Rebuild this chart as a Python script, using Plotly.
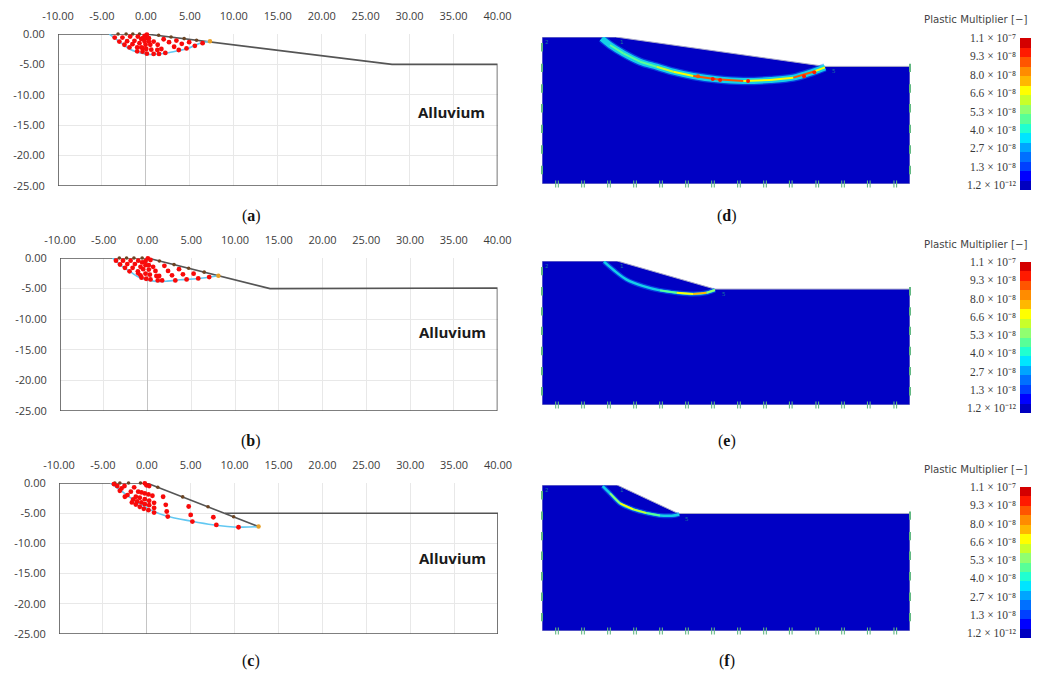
import plotly.graph_objects as go

W, H = 1040, 677

# ---------- tick labels ----------
x_ticks = [-10, -5, 0, 5, 10, 15, 20, 25, 30, 35, 40]
y_ticks = [0, -5, -10, -15, -20, -25]

# ---------- left panels: slope geometry ----------
surface_a_x = [-10, 0, 28, 40, 40, -10, -10]
surface_a_y = [0, 0, -5, -5, -25, -25, 0]
surface_b_x = [-10, 0, 14, 40, 40, -10, -10]
surface_b_y = [0, 0, -5, -4.9, -25, -25, 0]
surface_c_x = [-10, 0, 12.73]
surface_c_y = [0, 0, -7.22]
bench_c_x = [8.9, 40, 40, -10, -10]
bench_c_y = [-5, -5, -25, -25, 0]

# ---------- critical slip circles ----------
slip_a_x = [-4.16, -3.02, -1.87, -0.92, 0.11, 1.18, 2.33, 3.66, 4.81, 6.15, 7.29]
slip_a_y = [0, -1.24, -2.47, -3.01, -3.33, -3.33, -3.12, -2.74, -2.37, -1.51, -1.18]
slip_b_x = [-4.0, -3.07, -1.93, -0.8, 0.72, 2.23, 3.75, 5.64, 8.1]
slip_b_y = [0, -1.17, -2.28, -3.28, -3.78, -3.78, -3.56, -3.39, -2.89]
slip_c_x = [-4.15, -3, -2, -1, 0.5, 2.3, 5, 7.5, 10.5, 12.7]
slip_c_y = [0, -1.2, -2.3, -3.3, -4.5, -5.5, -6.3, -6.9, -7.3, -7.22]

# ---------- search grid points (red) ----------
red_a_x = [-3.55, -2.67, -1.79, -0.92, 0, -3.02, -2.14, -1.30, -0.53, -2.44, -1.53, -0.73, -1.87, -0.99,
           -0.99, -0.38, -0.38, 0.11, 0.88, 1.49, 2.21, -0.15, 0.11, -0.34, -0.04, 0.34, -0.15, 0.34, 0.88,
           -0.04, 0.50, 1.34, -0.53, 0.04, 0.61, 1.30, 1.76, 2.02, 2.63, 3.21, 3.74, 3.47, 4.08, 4.62, 4.92,
           5.57, 6.45]
red_a_y = [-0.59, -0.59, -0.43, -0.43, 0.1, -1.24, -1.18, -1.13, -0.81, -1.77, -1.67, -1.51, -2.20, -2.20,
           -2.85, -2.31, -2.90, -3.23, -3.28, -3.28, -3.12, -0.32, -0.11, -0.70, -0.70, -0.70, -1.24, -1.24,
           -1.24, -1.77, -1.77, -1.77, -2.20, -2.47, -2.58, -2.63, -2.47, -0.86, -1.34, -2.10, -2.63, -1.08,
           -1.61, -2.37, -1.34, -1.94, -1.51]
red_b_x = [-3.60, -2.80, -1.93, -1.06, -0.08, -0.23, 0.04, 0.34, -3.14, -2.31, -1.44, -0.61, -0.23, -2.58,
           -1.70, -0.80, -0.23, 0.15, 0.64, -2.05, -1.10, -0.49, 0.15, 0.91, -1.06, -0.80, -0.23, 0.27, 1.02,
           1.33, -0.68, -0.15, 0.34, 1.17, 1.67, 1.93, 2.35, 2.80, 3.18, 3.60, 4.05, 4.47, 5.27, 5.80, 7.05]
red_b_y = [-0.44, -0.44, -0.44, -0.44, 0.3, 0.06, -0.06, -0.33, -1.06, -1.0, -1.0, -0.72, -0.5, -1.61, -1.61,
           -1.44, -1.17, -1.17, -1.44, -2.17, -2.17, -1.83, -1.89, -2.11, -2.5, -2.83, -2.56, -2.72, -2.94,
           -2.94, -3.22, -3.39, -3.5, -3.67, -3.67, -1.28, -2.11, -2.83, -3.67, -1.83, -2.67, -3.5, -2.56,
           -3.33, -3.11]
red_c_x = [-3.75, -3.37, -3.07, -2.88, -2.54, -2.5, -2.2, -1.82, -1.44, -0.98, -0.61, -0.23, 0.19, 0.64,
           -1.25, -0.8, -0.23, 0.27, 0.83, -1.55, -1.10, -0.61, -0.23, 0.27, 0.83, -1.70, -1.25, -0.8, -0.34,
           0.19, 0.83, -0.15, -0.23, -0.04, 0.27, 1.86, 2.16, 2.27, 2.39, 4.77, 5.0, 5.19, 7.58, 7.92, 10.45]
red_c_y = [-0.17, -0.5, -1.28, -0.89, -0.5, -2.28, -2.0, -1.44, -0.72, -1.44, -1.56, -1.72, -1.89, -2.11,
           -2.28, -2.44, -2.67, -2.94, -3.28, -2.72, -3.06, -3.22, -3.5, -3.67, -4.11, -3.22, -3.56, -3.94,
           -4.28, -4.5, -4.89, 0.3, -0.06, -0.39, -0.5, -2.28, -3.61, -4.72, -5.56, -3.89, -5.28, -6.39,
           -5.67, -6.94, -7.33]

# ---------- surface points (brown) and slip end points (orange) ----------
brown_a_x = [-3.17, -2.25, -1.49, -0.73, 1.45, 2.86, 4.35, 5.76]
brown_a_y = [0, 0, 0, 0, -0.2, -0.5, -0.76, -1.02]
brown_b_x = [-3.22, -2.39, -1.55, -0.61, 1.36, 3.03, 4.70, 6.48]
brown_b_y = [0, 0, 0, 0, -0.49, -1.08, -1.68, -2.31]
brown_c_x = [-3.64, -3.07, -2.08, -0.72, 1.25, 4.09, 6.97, 9.89]
brown_c_y = [0, 0, 0, 0, -0.7, -2.3, -3.94, -5.6]
orange_a_x, orange_a_y = [-4.2, 7.29], [0.05, -1.18]
orange_b_x, orange_b_y = [-4.0, 8.1], [0.05, -2.89]
orange_c_x, orange_c_y = [-4.15, 12.73], [0.05, -7.22]

# ---------- right panels: model outline ----------
soil_d_x = [-10, 0, 28.5, 40, 40, -10, -10]
soil_d_y = [0, 0, -4, -4, -20, -20, 0]
soil_e_x = [-10, 0.2, 13.5, 40, 40, -10, -10]
soil_e_y = [0, 0, -3.9, -3.9, -20, -20, 0]
soil_f_x = [-10, 0.2, 8.5, 40, 40, -10, -10]
soil_f_y = [0, 0, -3.9, -3.9, -20, -20, 0]

# ---------- plastic multiplier band (value in 1e-8) ----------
band_d_x = [-1.89, -0.76, 1.05, 3.32, 5.58, 7.85, 10.56, 13.73, 17.36, 20.98, 24.15, 26.87, 28.45]
band_d_y = [-0.18, -1.09, -2.22, -3.36, -4.04, -4.72, -5.31, -5.76, -5.99, -5.85, -5.53, -4.72, -4.13]
band_d_v = [4, 5, 5, 5, 5.5, 7, 8, 10, 8, 7, 8, 10, 5]
band_e_x = [-1.58, -0.31, 1.50, 3.77, 6.03, 8.30, 10.56, 12.37, 13.5]
band_e_y = [-0.09, -1.22, -2.58, -3.49, -4.08, -4.40, -4.58, -4.40, -4.03]
band_e_v = [4, 4, 4, 4, 4, 6, 9, 7, 5]
band_f_x = [-1.76, -0.76, 0.60, 2.41, 4.22, 6.03, 7.62, 8.66]
band_f_y = [-0.15, -1.15, -2.52, -3.34, -3.85, -4.17, -4.21, -4.03]
band_f_v = [4, 4, 8, 7, 6, 4, 4, 4]

# ---------- hot spots of panel d (value in 1e-8) ----------
spot_d_x = [11.2, 13.2, 14.2, 18.0, 25.6, 27.0]
spot_d_y = [-5.35, -5.7, -5.85, -6.0, -5.35, -4.8]
spot_d_v = [9, 10, 10, 10, 10, 10]

# ---------- boundary nodes ----------
node_left_y = [-1.4, -4.2, -7, -9.7, -12.5, -15.3, -18.1]
node_right_y = [-4.2, -7, -9.7, -12.5, -15.3, -18.1]
node_bottom_x = [-7.96, -4.43, -0.9, 2.64, 6.17, 9.7, 13.23, 16.76, 20.3, 23.8, 27.4, 30.9, 34.4, 38.0]

# ---------- colour bar ----------
cb_colors = ["#0000c0", "#0000ff", "#0040ff", "#0070ff", "#00a5ff", "#00e5ff", "#20ffd0", "#58ff98",
             "#90ff70", "#c8ff2a", "#ffff00", "#ffb800", "#ff8c00", "#ff5500", "#ff1a00", "#d40000"]
cb_labels = ["1.2 × 10⁻¹²", "1.3 × 10⁻⁸", "2.7 × 10⁻⁸", "4.0 × 10⁻⁸", "5.3 × 10⁻⁸",
             "6.6 × 10⁻⁸", "8.0 × 10⁻⁸", "9.3 × 10⁻⁸", "1.1 × 10⁻⁷"]
cb_levels = [0, 1, 2, 3, 4, 5, 6, 7, 8, 9, 10, 11, 12, 13, 14, 15]

SOIL = "#0000c4"
TICK_FONT = dict(family="Open Sans", size=11, color="#3c3c3c")

fig = go.Figure()
layout = dict(width=W, height=H, margin=dict(l=0, r=0, t=0, b=0, pad=0), autosize=False,
              paper_bgcolor="white", plot_bgcolor="white", showlegend=False)
annotations = []
axis_n = [0]


def dom_x(a, b):
    return [a / W, b / W]


def dom_y(top, bottom):
    return [1 - bottom / H, 1 - top / H]


def new_axes(box, xaxis, yaxis):
    axis_n[0] += 1
    n = axis_n[0]
    sx = "" if n == 1 else str(n)
    layout["xaxis" + sx] = dict(domain=dom_x(box[0], box[1]), anchor="y" + sx, automargin=False, **xaxis)
    layout["yaxis" + sx] = dict(domain=dom_y(box[2], box[3]), anchor="x" + sx, automargin=False, **yaxis)
    return "x" + sx, "y" + sx


def text_px(x, y, text, **font):
    annotations.append(dict(xref="paper", yref="paper", x=x / W, y=1 - y / H, text=text, showarrow=False,
                            xanchor="center", yanchor="middle", font=font))


def limit_panel(box, lines, slip, red, brown, orange, label_y):
    xa, ya = new_axes(
        box,
        dict(range=[-10, 40], side="top", tickvals=x_ticks, ticktext=[f"{v:.2f}" for v in x_ticks],
             tickfont=TICK_FONT, showgrid=True, gridcolor="#e8e8e8", gridwidth=1.3, zeroline=True,
             zerolinecolor="#c4c4c4", zerolinewidth=1.3, ticks="outside", ticklen=9,
             tickcolor="rgba(0,0,0,0)", showline=False),
        dict(range=[-25, 0], tickvals=y_ticks, ticktext=[f"{v:.2f}" for v in y_ticks], tickfont=TICK_FONT,
             showgrid=True, gridcolor="#e8e8e8", gridwidth=1.3, zeroline=False, ticks="outside", ticklen=10,
             tickcolor="rgba(0,0,0,0)", showline=False),
    )
    for lx, ly in lines:
        fig.add_trace(go.Scatter(x=lx, y=ly, mode="lines", line=dict(color="#555555", width=1.6),
                                 xaxis=xa, yaxis=ya, cliponaxis=False))
    fig.add_trace(go.Scatter(x=slip[0], y=slip[1], mode="lines", line=dict(color="#62c8f2", width=1.6, shape="spline"),
                             xaxis=xa, yaxis=ya, cliponaxis=False))
    fig.add_trace(go.Scatter(x=brown[0], y=brown[1], mode="markers", marker=dict(color="#6b4423", size=3.6),
                             xaxis=xa, yaxis=ya, cliponaxis=False))
    fig.add_trace(go.Scatter(x=orange[0], y=orange[1], mode="markers", marker=dict(color="#e8a028", size=4.5),
                             xaxis=xa, yaxis=ya, cliponaxis=False))
    fig.add_trace(go.Scatter(x=red[0], y=red[1], mode="markers", marker=dict(color="#f80a0a", size=4.8),
                             xaxis=xa, yaxis=ya, cliponaxis=False))
    annotations.append(dict(xref=xa, yref=ya, x=34.8, y=label_y, text="<b>Alluvium</b>", showarrow=False,
                            font=dict(family="Open Sans", size=15, color="#1a1a1a")))


def value_color(v):
    return cb_colors[min(15, int(v / 11 * 16))]


def fem_panel(box, soil, band, toe_x, halo, spots=None):
    xa, ya = new_axes(box, dict(range=[-10, 40], visible=False), dict(range=[-20, 0], visible=False))
    fig.add_trace(go.Scatter(x=soil[0], y=soil[1], mode="lines", fill="toself", fillcolor=SOIL,
                             line=dict(color="#a8a8c8", width=1), xaxis=xa, yaxis=ya, cliponaxis=False))
    bx, by, bv = band
    fig.add_trace(go.Scatter(x=bx, y=by, mode="lines", opacity=0.5,
                             line=dict(color="#0a78ff", width=halo + 2.5, shape="spline"), xaxis=xa, yaxis=ya))
    fig.add_trace(go.Scatter(x=bx, y=by, mode="lines", opacity=0.9,
                             line=dict(color="#18e0e8", width=halo, shape="spline"), xaxis=xa, yaxis=ya))
    for i in range(len(bx) - 1):
        v = (bv[i] + bv[i + 1]) / 2
        if v > 4.5:
            fig.add_trace(go.Scatter(x=bx[i:i + 2], y=by[i:i + 2], mode="lines",
                                     line=dict(color=value_color(v), width=2), xaxis=xa, yaxis=ya))
    if spots:
        fig.add_trace(go.Scatter(x=spots[0], y=spots[1], mode="markers",
                                 marker=dict(color=[value_color(v) for v in spots[2]], size=4),
                                 xaxis=xa, yaxis=ya))
    side_x = [-10] * len(node_left_y) + [40] * len(node_right_y)
    fig.add_trace(go.Scatter(x=side_x, y=node_left_y + node_right_y, mode="markers",
                             marker=dict(symbol="line-ns", size=6, line=dict(color="#62b882", width=2)),
                             xaxis=xa, yaxis=ya, cliponaxis=False))
    pair_x = [v + d for v in node_bottom_x for d in (-0.18, 0.18)]
    fig.add_trace(go.Scatter(x=pair_x, y=[-20] * len(pair_x), mode="markers",
                             marker=dict(symbol="line-ns", size=5, line=dict(color="#62b882", width=1.1)),
                             xaxis=xa, yaxis=ya, cliponaxis=False))
    for tx, ty, t, col in [(-9.3, -0.7, "2", "#1a7a9a"), (-9.4, -21, "3", "#50c8c8"), (40.6, -21, "4", "#50c8c8"),
                           (toe_x + 1.2, -4.6, "5", "#1a7a9a"), (0.9, -0.7, "1", "#1a7a9a")]:
        annotations.append(dict(xref=xa, yref=ya, x=tx, y=ty, text=t, showarrow=False,
                                font=dict(family="DejaVu Sans", size=5.5, color=col)))


def color_bar(box, title_y):
    scale = []
    for i, c in enumerate(cb_colors):
        scale += [[i / 16, c], [(i + 1) / 16, c]]
    xa, ya = new_axes(
        box,
        dict(range=[0, 1], visible=False),
        dict(range=[-0.27, 8], tickvals=list(range(9)), ticktext=cb_labels, side="left", showgrid=False,
             zeroline=False, ticks="", ticklabelstandoff=3,
             tickfont=dict(family="Liberation Serif", size=11.5, color="#3a3a3a")),
    )
    fig.add_trace(go.Heatmap(z=[[v] for v in cb_levels], x0=0.5, dx=1, y0=-0.27 + 8.27 / 32, dy=8.27 / 16,
                             zmin=0, zmax=16, colorscale=scale, showscale=False, xaxis=xa, yaxis=ya))
    text_px(975, title_y, "Plastic Multiplier [−]", family="DejaVu Sans", size=10.2, color="#444444")


limit_panel((58, 497.5, 34, 186), [(surface_a_x, surface_a_y)], (slip_a_x, slip_a_y), (red_a_x, red_a_y),
            (brown_a_x, brown_a_y), (orange_a_x, orange_a_y), -12.8)
limit_panel((60, 497.5, 258, 411), [(surface_b_x, surface_b_y)], (slip_b_x, slip_b_y), (red_b_x, red_b_y),
            (brown_b_x, brown_b_y), (orange_b_x, orange_b_y), -12.1)
limit_panel((59, 498, 483, 634), [(surface_c_x, surface_c_y), (bench_c_x, bench_c_y)], (slip_c_x, slip_c_y),
            (red_c_x, red_c_y), (brown_c_x, brown_c_y), (orange_c_x, orange_c_y), -12.4)

fem_panel((542, 910, 37, 184), (soil_d_x, soil_d_y), (band_d_x, band_d_y, band_d_v), 28.5, 6,
          (spot_d_x, spot_d_y, spot_d_v))
fem_panel((542, 910, 261, 405), (soil_e_x, soil_e_y), (band_e_x, band_e_y, band_e_v), 13.5, 2.5)
fem_panel((542, 910, 485, 631), (soil_f_x, soil_f_y), (band_f_x, band_f_y, band_f_v), 8.5, 2.5)

color_bar((1020, 1031, 38, 190), 20)
color_bar((1020, 1031, 262, 413), 244)
color_bar((1020, 1031, 487, 638), 469)

for x, y, letter in [(251, 216, "a"), (251, 441, "b"), (251, 661, "c"), (727, 216, "d"), (727, 441, "e"), (727, 661, "f")]:
    text_px(x, y, f"(<b>{letter}</b>)", family="Liberation Serif", size=16, color="#111111")

layout["annotations"] = annotations
fig.update_layout(**layout)
fig.write_html("out.html", config={"displayModeBar": False},
               post_script="document.body.style.margin='0';document.body.style.overflow='hidden';")
